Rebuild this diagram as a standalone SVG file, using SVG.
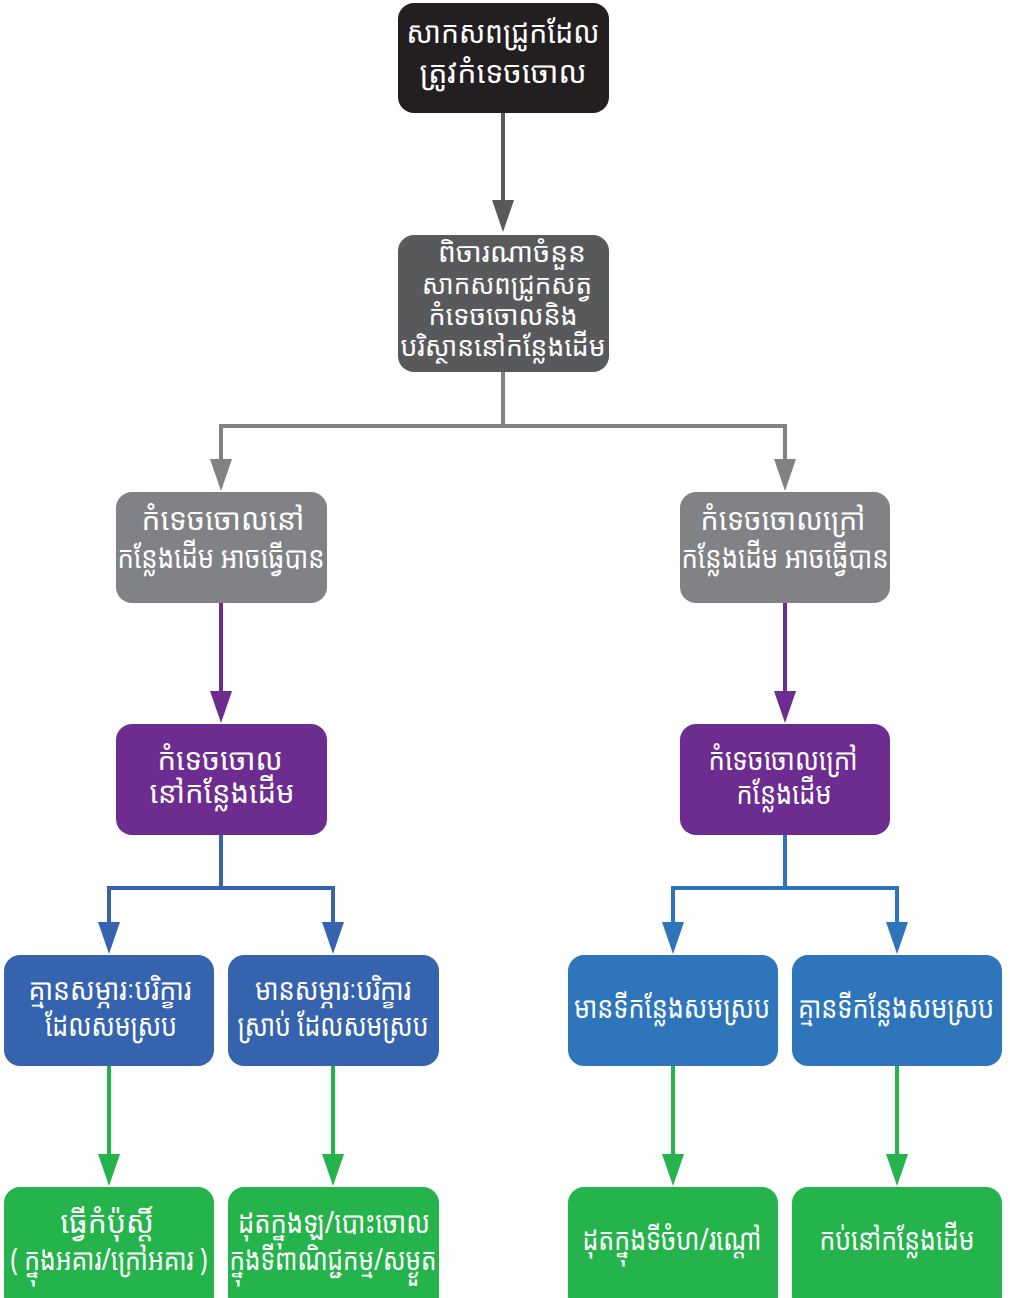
<svg xmlns="http://www.w3.org/2000/svg" width="1010" height="1298" viewBox="0 0 1010 1298">
  <defs>
    <style>
      .lbl { font-family: "Noto Sans Khmer", "Khmer OS", "Noto Sans", "DejaVu Sans", sans-serif; font-size: 30px; fill: #ffffff; text-anchor: middle; }
      .sm { font-size: 27px; }
      .ln { fill: none; stroke-width: 4; }
    </style>
  </defs>
  <rect width="1010" height="1298" fill="#ffffff"/>

  <!-- connectors: shafts plus filled triangular heads -->
  <g id="connectors">
    <line x1="503" y1="113" x2="503" y2="202" stroke="#58595b" stroke-width="4"/>
    <polygon points="492,200 514,200 503,232" fill="#58595b"/>

    <polyline class="ln" points="503,372 503,426 221,426 221,462" stroke="#808285"/>
    <polyline class="ln" points="503,426 785,426 785,462" stroke="#808285"/>
    <polygon points="210,459 232,459 221,491" fill="#808285"/>
    <polygon points="774,459 796,459 785,491" fill="#808285"/>

    <line x1="221" y1="603" x2="221" y2="694" stroke="#6d2c8f" stroke-width="4"/>
    <polygon points="210,691 232,691 221,723" fill="#6d2c8f"/>
    <line x1="785" y1="603" x2="785" y2="694" stroke="#6d2c8f" stroke-width="4"/>
    <polygon points="774,691 796,691 785,723" fill="#6d2c8f"/>

    <polyline class="ln" points="221,835 221,888 109,888 109,925" stroke="#3663ad"/>
    <polyline class="ln" points="221,888 333,888 333,925" stroke="#3663ad"/>
    <polygon points="98,922 120,922 109,954" fill="#3663ad"/>
    <polygon points="322,922 344,922 333,954" fill="#3663ad"/>

    <polyline class="ln" points="785,835 785,888 673,888 673,925" stroke="#2e75bb"/>
    <polyline class="ln" points="785,888 897,888 897,925" stroke="#2e75bb"/>
    <polygon points="662,922 684,922 673,954" fill="#2e75bb"/>
    <polygon points="886,922 908,922 897,954" fill="#2e75bb"/>

    <line x1="109" y1="1066" x2="109" y2="1157" stroke="#25b34b" stroke-width="4"/>
    <polygon points="98,1154 120,1154 109,1186" fill="#25b34b"/>
    <line x1="333" y1="1066" x2="333" y2="1157" stroke="#25b34b" stroke-width="4"/>
    <polygon points="322,1154 344,1154 333,1186" fill="#25b34b"/>
    <line x1="673" y1="1066" x2="673" y2="1157" stroke="#25b34b" stroke-width="4"/>
    <polygon points="662,1154 684,1154 673,1186" fill="#25b34b"/>
    <line x1="897" y1="1066" x2="897" y2="1157" stroke="#25b34b" stroke-width="4"/>
    <polygon points="886,1154 908,1154 897,1186" fill="#25b34b"/>
  </g>

  <g id="n1">
    <rect x="398" y="3" width="211" height="110" rx="16" fill="#231f20"/>
    <text class="lbl" x="503" y="43" textLength="193" lengthAdjust="spacingAndGlyphs">សាកសពជ្រូកដែល</text>
    <text class="lbl" x="503" y="83" textLength="167" lengthAdjust="spacingAndGlyphs">ត្រូវកំទេចចោល</text>
  </g>
  <g id="n2">
    <rect x="398" y="235" width="211" height="137" rx="16" fill="#58595b"/>
    <text class="lbl sm" x="512" y="262" textLength="148" lengthAdjust="spacingAndGlyphs">ពិចារណាចំនួន</text>
    <text class="lbl sm" x="507" y="294" textLength="170" lengthAdjust="spacingAndGlyphs">សាកសពជ្រូកសត្វ</text>
    <text class="lbl sm" x="503" y="325" textLength="149" lengthAdjust="spacingAndGlyphs">កំទេចចោលនិង</text>
    <text class="lbl sm" x="503" y="356" textLength="205" lengthAdjust="spacingAndGlyphs">បរិស្ថាននៅកន្លែងដើម</text>
  </g>
  <g id="n3">
    <rect x="116" y="492" width="211" height="111" rx="16" fill="#808285"/>
    <text class="lbl" x="223" y="530" textLength="163" lengthAdjust="spacingAndGlyphs">កំទេចចោលនៅ</text>
    <text class="lbl" x="221" y="568" textLength="207" lengthAdjust="spacingAndGlyphs">កន្លែងដើម អាចធ្វើបាន</text>
  </g>
  <g id="n4">
    <rect x="680" y="492" width="210" height="111" rx="16" fill="#808285"/>
    <text class="lbl" x="783" y="530" textLength="165" lengthAdjust="spacingAndGlyphs">កំទេចចោលក្រៅ</text>
    <text class="lbl" x="785" y="568" textLength="207" lengthAdjust="spacingAndGlyphs">កន្លែងដើម អាចធ្វើបាន</text>
  </g>
  <g id="n5">
    <rect x="116" y="724" width="211" height="111" rx="16" fill="#6d2c8f"/>
    <text class="lbl" x="220" y="770" textLength="125" lengthAdjust="spacingAndGlyphs">កំទេចចោល</text>
    <text class="lbl" x="222" y="803" textLength="145" lengthAdjust="spacingAndGlyphs">នៅកន្លែងដើម</text>
  </g>
  <g id="n6">
    <rect x="680" y="724" width="210" height="111" rx="16" fill="#6d2c8f"/>
    <text class="lbl" x="783" y="770" textLength="149" lengthAdjust="spacingAndGlyphs">កំទេចចោលក្រៅ</text>
    <text class="lbl" x="784" y="804" textLength="95" lengthAdjust="spacingAndGlyphs">កន្លែងដើម</text>
  </g>
  <g id="n7">
    <rect x="4" y="955" width="210" height="111" rx="16" fill="#3663ad"/>
    <text class="lbl" x="110" y="1000" textLength="163" lengthAdjust="spacingAndGlyphs">គ្មានសម្ភារៈបរិក្ខារ</text>
    <text class="lbl" x="111" y="1036" textLength="132" lengthAdjust="spacingAndGlyphs">ដែលសមស្រប</text>
  </g>
  <g id="n8">
    <rect x="228" y="955" width="211" height="111" rx="16" fill="#3663ad"/>
    <text class="lbl" x="333" y="1000" textLength="156" lengthAdjust="spacingAndGlyphs">មានសម្ភារៈបរិក្ខារ</text>
    <text class="lbl" x="333" y="1036" textLength="191" lengthAdjust="spacingAndGlyphs">ស្រាប់ ដែលសមស្រប</text>
  </g>
  <g id="n9">
    <rect x="568" y="955" width="210" height="111" rx="16" fill="#2e75bb"/>
    <text class="lbl" x="672" y="1018" textLength="196" lengthAdjust="spacingAndGlyphs">មានទីកន្លែងសមស្រប</text>
  </g>
  <g id="n10">
    <rect x="792" y="955" width="210" height="111" rx="16" fill="#2e75bb"/>
    <text class="lbl" x="896" y="1018" textLength="196" lengthAdjust="spacingAndGlyphs">គ្មានទីកន្លែងសមស្រប</text>
  </g>
  <g id="n11">
    <rect x="4" y="1187" width="210" height="125" rx="16" fill="#25b34b"/>
    <text class="lbl" x="107" y="1233">ធ្វើកំប៉ុស្តិ៍</text>
    <text class="lbl" x="109" y="1270" textLength="197" lengthAdjust="spacingAndGlyphs">( ក្នុងអគារ/ក្រៅអគារ )</text>
  </g>
  <g id="n12">
    <rect x="228" y="1187" width="211" height="125" rx="16" fill="#25b34b"/>
    <text class="lbl" x="334" y="1233" textLength="192" lengthAdjust="spacingAndGlyphs">ដុតក្នុងឡ/បោះចោល</text>
    <text class="lbl" x="333" y="1270" textLength="207" lengthAdjust="spacingAndGlyphs">ក្នុងទីពាណិជ្ជកម្ម/សម្ងួត</text>
  </g>
  <g id="n13">
    <rect x="568" y="1187" width="210" height="125" rx="16" fill="#25b34b"/>
    <text class="lbl" x="672" y="1250" textLength="179" lengthAdjust="spacingAndGlyphs">ដុតក្នុងទីចំហ/រណ្តៅ</text>
  </g>
  <g id="n14">
    <rect x="792" y="1187" width="210" height="125" rx="16" fill="#25b34b"/>
    <text class="lbl" x="897" y="1250" textLength="155" lengthAdjust="spacingAndGlyphs">កប់នៅកន្លែងដើម</text>
  </g>
</svg>
